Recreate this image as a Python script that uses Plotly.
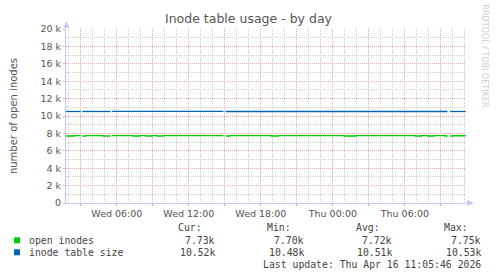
import plotly.graph_objects as go

# ---- data (values in thousands of inodes) ----
open_times = [
    "2026-04-15 01:46", "2026-04-15 02:26", "2026-04-15 03:00", "2026-04-15 03:00",
    "2026-04-15 03:07", "2026-04-15 03:26", "2026-04-15 04:51", "2026-04-15 05:29", "2026-04-15 05:29",
    "2026-04-15 05:36", "2026-04-15 07:21", "2026-04-15 07:56", "2026-04-15 08:26",
    "2026-04-15 08:56", "2026-04-15 09:21", "2026-04-15 09:51", "2026-04-15 14:53", "2026-04-15 14:53",
    "2026-04-15 15:03", "2026-04-15 15:26", "2026-04-15 18:54", "2026-04-15 19:27",
    "2026-04-16 00:57", "2026-04-16 01:56", "2026-04-16 06:54", "2026-04-16 07:24",
    "2026-04-16 07:54", "2026-04-16 08:26", "2026-04-16 09:21", "2026-04-16 09:33", "2026-04-16 09:33",
    "2026-04-16 09:46", "2026-04-16 09:56", "2026-04-16 11:05",
]
open_values = [
    7.70, 7.74, 7.74, None,
    7.70, 7.74, 7.70, 7.70, None,
    7.74, 7.70, 7.74, 7.70,
    7.74, 7.70, 7.74, 7.74, None,
    7.70, 7.74, 7.70, 7.74,
    7.70, 7.74, 7.70, 7.74,
    7.70, 7.74, 7.70, 7.70, None,
    7.70, 7.73, 7.73,
]

table_times = [
    "2026-04-15 01:46", "2026-04-15 03:00", "2026-04-15 03:00",
    "2026-04-15 03:07", "2026-04-15 05:29", "2026-04-15 05:29",
    "2026-04-15 05:36", "2026-04-15 14:53", "2026-04-15 14:53",
    "2026-04-15 15:03", "2026-04-16 09:33", "2026-04-16 09:33",
    "2026-04-16 09:46", "2026-04-16 11:05",
]
table_values = [
    10.52, 10.52, None,
    10.52, 10.52, None,
    10.53, 10.53, None,
    10.52, 10.52, None,
    10.52, 10.52,
]

series_names = ["open inodes", "inode table size"]
series_colors = ["#00cc00", "#0066b3"]
stat_headers = ["Cur:", "Min:", "Avg:", "Max:"]
open_stats = ["7.73k", "7.70k", "7.72k", "7.75k"]
table_stats = ["10.52k", "10.48k", "10.51k", "10.53k"]

y_tickvals = [0, 2, 4, 6, 8, 10, 12, 14, 16, 18, 20]
y_ticktext = ["0", "2 k", "4 k", "6 k", "8 k", "10 k", "12 k", "14 k", "16 k", "18 k", "20 k"]

x_tickvals = [
    "2026-04-15 03:00", "2026-04-15 06:00", "2026-04-15 09:00", "2026-04-15 12:00",
    "2026-04-15 15:00", "2026-04-15 18:00", "2026-04-15 21:00", "2026-04-16 00:00",
    "2026-04-16 03:00", "2026-04-16 06:00", "2026-04-16 09:00",
]
x_ticktext = ["", "Wed 06:00", "", "Wed 12:00", "", "Wed 18:00", "", "Thu 00:00", "", "Thu 06:00", ""]

x_range = ["2026-04-15 01:45:46", "2026-04-16 11:05:46"]
last_update = "Last update: Thu Apr 16 11:05:46 2026"

# ---- figure ----
W, H = 497, 276
L, R, T, B = 66, 466, 29, 203


def px(x):
    return (x - L) / (R - L)


def py(y):
    return (B - y) / (B - T)


fig = go.Figure()
fig.add_trace(go.Scatter(x=open_times, y=open_values, mode="lines", line_shape="hv",
                         line=dict(color=series_colors[0], width=1.3), connectgaps=False,
                         name=series_names[0]))
fig.add_trace(go.Scatter(x=table_times, y=table_values, mode="lines", line_shape="hv",
                         line=dict(color=series_colors[1], width=1.3), connectgaps=False,
                         name=series_names[1]))

major_grid = "#eda8a8"
minor_grid = "#cfcfcf"
axis_col = "#c6c6f5"
txt = "#555555"
mono = "DejaVu Sans Mono, monospace"
dash = "1px,1px"

fig.update_layout(
    width=W, height=H,
    margin=dict(l=L, r=W - R, t=T, b=H - B),
    paper_bgcolor="white", plot_bgcolor="white",
    showlegend=False,
    font=dict(family="DejaVu Sans, sans-serif", color=txt, size=9.5),
    title=dict(text="Inode table usage - by day", x=0.5, xref="container", xanchor="center",
               y=1 - 19 / H, yref="container", yanchor="middle",
               font=dict(size=12.5, color="#555555", family="DejaVu Sans, sans-serif")),
)

fig.update_xaxes(
    type="date", range=x_range,
    tickmode="array", tickvals=x_tickvals, ticktext=x_ticktext,
    showgrid=True, gridcolor=major_grid, griddash=dash, gridwidth=1,
    minor=dict(dtick=3600000, tick0="2026-04-15 00:00", showgrid=True,
               gridcolor=minor_grid, griddash=dash, gridwidth=1),
    showline=True, linecolor=axis_col, linewidth=1,
    ticks="outside", ticklen=2, tickcolor=major_grid,
    tickfont=dict(size=9.5, color=txt),
    zeroline=False, fixedrange=True,
)
fig.update_yaxes(
    range=[0, 20], tickmode="array", tickvals=y_tickvals, ticktext=y_ticktext,
    showgrid=True, gridcolor=major_grid, griddash=dash, gridwidth=1,
    minor=dict(dtick=1, showgrid=True, gridcolor=minor_grid, griddash=dash, gridwidth=1),
    showline=True, linecolor=axis_col, linewidth=1,
    ticks="outside", ticklen=2, tickcolor=major_grid,
    tickfont=dict(size=9.5, color=txt),
    title=dict(text="number of open inodes", font=dict(size=10, color=txt), standoff=20),
    zeroline=False, fixedrange=True,
)

shapes = []
# axis arrows
shapes.append(dict(type="path", xref="paper", yref="paper",
                   path=f"M {px(63.5)} {py(28)} L {px(69.5)} {py(28)} L {px(66.5)} {py(21)} Z",
                   fillcolor=axis_col, line=dict(width=0)))
shapes.append(dict(type="path", xref="paper", yref="paper",
                   path=f"M {px(467)} {py(200)} L {px(467)} {py(206)} L {px(474)} {py(203)} Z",
                   fillcolor=axis_col, line=dict(width=0)))
# legend swatches
for i, yc in enumerate([240.3, 252.3]):
    shapes.append(dict(type="rect", xref="paper", yref="paper",
                       x0=px(14), x1=px(20), y0=py(yc + 3), y1=py(yc - 3),
                       fillcolor=series_colors[i], line=dict(width=0)))
fig.update_layout(shapes=shapes)

ann = []
hdr_right = [204, 293, 382, 470]
val_right = [217, 306, 394, 482.5]
for h, xr in zip(stat_headers, hdr_right):
    ann.append(dict(text=h, x=px(xr), y=py(227.5), xanchor="right", yanchor="middle"))
for row, yc in zip([open_stats, table_stats], [240, 252]):
    for v, xr in zip(row, val_right):
        ann.append(dict(text=v, x=px(xr), y=py(yc), xanchor="right", yanchor="middle"))
for name, yc in zip(series_names, [240, 252]):
    ann.append(dict(text=name, x=px(26.5), y=py(yc), xanchor="left", yanchor="middle"))
ann.append(dict(text=last_update, x=px(482.5), y=py(264), xanchor="right", yanchor="middle"))
for a in ann:
    a.update(xref="paper", yref="paper", showarrow=False,
             font=dict(family=mono, size=9.8, color="#444444"))
ann.append(dict(text="RRDTOOL / TOBI OETIKER", x=px(484.5), y=py(56), xref="paper", yref="paper",
                xanchor="center", yanchor="middle", textangle=90, showarrow=False,
                font=dict(family="DejaVu Sans, sans-serif", size=8, color="#cccccc")))
fig.update_layout(annotations=ann)

fig.write_html("out.html")
